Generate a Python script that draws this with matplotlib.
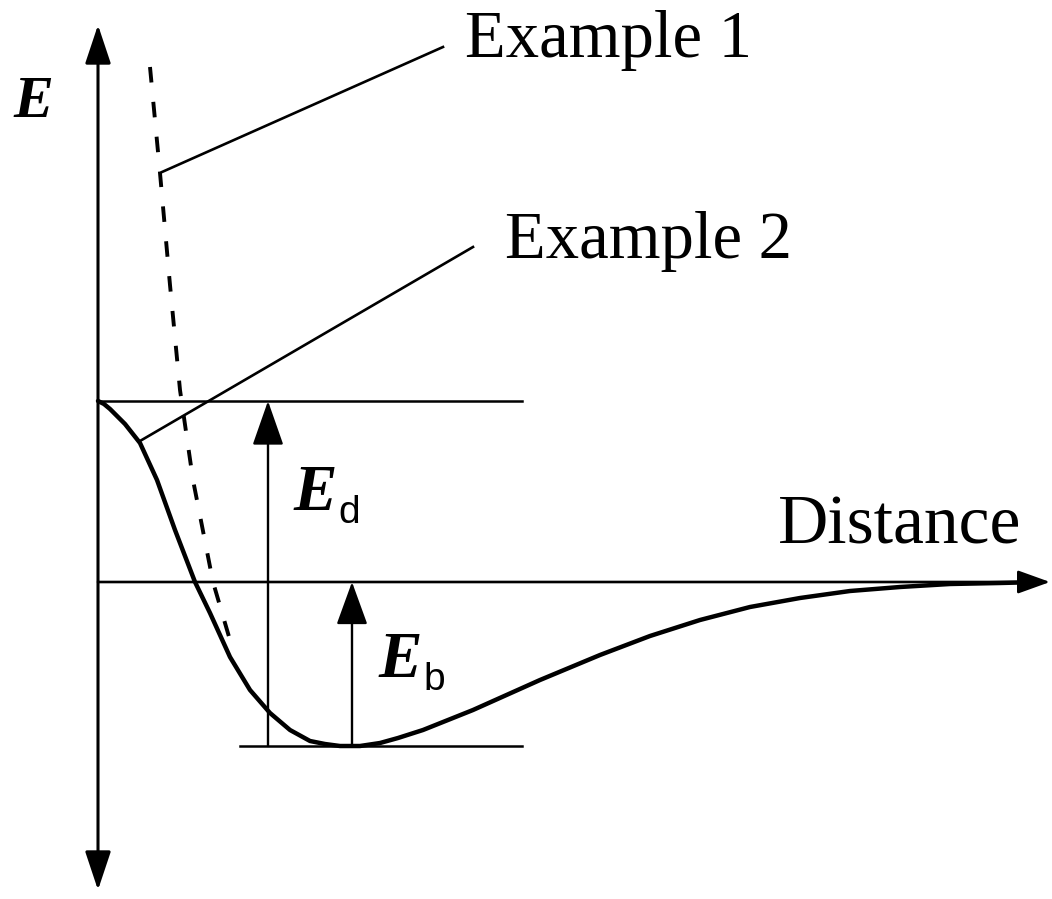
import matplotlib.pyplot as plt

# coordinates: distance from the E axis, energy above the dissociation level (picture units)
curve_d = [0, 6, 12, 27, 42, 59, 77, 97, 112, 132, 152, 172, 192, 212, 227, 242, 262, 282, 300, 325,
           375, 442, 502, 552, 602, 652, 702, 752, 802, 852, 902, 942]
curve_E = [181, 178, 173, 158, 139, 102, 52, 0, -31, -75, -108, -131, -148, -159, -162, -164, -164, -161, -156, -148,
           -128, -98, -73, -54, -38, -25, -16, -9, -5, -2, -1, 0]

ex1_d = [52, 62, 72, 82, 95, 115, 134]
ex1_E = [515, 409, 297, 192, 102, 0, -65]

Ed_level = 181
Eb_level = -164

fig = plt.figure(figsize=(10.52, 8.99), dpi=100)
ax = fig.add_axes([0, 0, 1, 1])
ax.set_xlim(-98, 954)
ax.set_ylim(-317, 582)
ax.axis('off')

serif = 'Liberation Serif'

# axes with arrows
ax.annotate('', xy=(0, 557), xytext=(0, -308),
            arrowprops=dict(arrowstyle='<|-|>,head_length=1.2,head_width=0.4',
                            mutation_scale=20, lw=2.2, color='black',
                            shrinkA=0, shrinkB=0))
ax.annotate('', xy=(952, 0), xytext=(0, 0),
            arrowprops=dict(arrowstyle='-|>,head_length=1.0,head_width=0.36',
                            mutation_scale=20, lw=1.9, color='black',
                            shrinkA=0, shrinkB=0))

# energy levels
ax.plot([0, 424], [Ed_level, Ed_level], color='black', lw=1.8)
ax.plot([142, 424], [Eb_level, Eb_level], color='black', lw=1.8)

# Ed and Eb arrows
ax.annotate('', xy=(170, Ed_level), xytext=(170, Eb_level),
            arrowprops=dict(arrowstyle='-|>,head_length=1.4,head_width=0.49',
                            mutation_scale=20, lw=1.7, color='black',
                            shrinkA=0, shrinkB=0))
ax.annotate('', xy=(254, 0), xytext=(254, Eb_level),
            arrowprops=dict(arrowstyle='-|>,head_length=1.35,head_width=0.49',
                            mutation_scale=20, lw=1.7, color='black',
                            shrinkA=0, shrinkB=0))

# curves
ax.plot(curve_d, curve_E, color='black', lw=3.2, solid_capstyle='round',
        solid_joinstyle='round')
ax.plot(ex1_d, ex1_E, color='black', lw=2.8, linestyle=(0, (4, 5)))

# leader lines
ax.plot([64, 345], [410, 535], color='black', lw=1.9)
ax.plot([42, 375], [141, 335], color='black', lw=1.9)

# labels
ax.text(367, 525, 'Example 1', family=serif, fontsize=48, va='baseline', ha='left')
ax.text(407, 324, 'Example 2', family=serif, fontsize=48, va='baseline', ha='left')
ax.text(680, 39, 'Distance', family=serif, fontsize=50, va='baseline', ha='left')
ax.text(-85, 465, 'E', family=serif, fontsize=43, style='italic', weight='bold',
        va='baseline', ha='left')
ax.text(195, 72, 'E', family=serif, fontsize=47, style='italic', weight='bold',
        va='baseline', ha='left')
ax.text(240, 59, 'd', family='Liberation Sans', fontsize=28, va='baseline', ha='left')
ax.text(280, -95, 'E', family=serif, fontsize=47, style='italic', weight='bold',
        va='baseline', ha='left')
ax.text(325, -108, 'b', family='Liberation Sans', fontsize=28, va='baseline', ha='left')

fig.savefig('out.png', dpi=100)
